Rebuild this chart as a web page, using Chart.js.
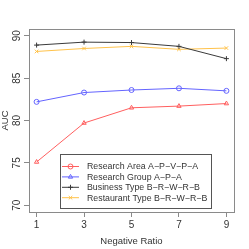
<!DOCTYPE html>
<html>
<head>
<meta charset="utf-8">
<script src="https://cdn.jsdelivr.net/npm/chart.js@4.4.0/dist/chart.umd.min.js"></script>
<style>
  html, body { margin: 0; padding: 0; background: #fff; }
  #wrap { width: 249px; height: 249px; }
</style>
</head>
<body>
<div id="wrap"><canvas id="c" width="249" height="249"></canvas></div>
<script>
// values
const ratios = [1, 3, 5, 7, 9];
const xTicks = [1, 3, 5, 7, 9];
const yTicks = [70, 75, 80, 85, 90];
const researchArea = [75.1, 79.7, 81.5, 81.7, 82.0];
const researchGroup = [82.2, 83.3, 83.6, 83.8, 83.5];
const businessType = [88.9, 89.25, 89.2, 88.75, 87.3];
const restaurantType = [88.15, 88.5, 88.75, 88.4, 88.55];

const labels = ['Research Area A\u2212P\u2212V\u2212P\u2212A', 'Research Group A\u2212P\u2212A',
    'Business Type B\u2212R\u2212W\u2212R\u2212B', 'Restaurant Type B\u2212R\u2212W\u2212R\u2212B'];
const colors = ['#ff5f5f', '#6464ff', '#3a3a3a', '#ffc24a'];
const plotStyles = ['triangle', 'circle', 'cross', 'crossRot'];
// the legend in the original swaps the first two markers
const legendStyles = ['circle', 'triangle', 'cross', 'crossRot'];

const FONT = 'Liberation Sans, Arial, sans-serif';

function series(i, values) {
    return {
        label: labels[i],
        data: ratios.map((x, k) => ({ x, y: values[k] })),
        borderColor: colors[i],
        backgroundColor: 'rgba(0,0,0,0)',
        borderWidth: 1,
        pointStyle: plotStyles[i],
        pointRadius: 2.5,
        pointBorderWidth: 1,
        tension: 0
    };
}

const boxPlugin = {
    id: 'boxAndLegend',
    afterDraw(chart) {
        const { ctx, chartArea: a } = chart;
        ctx.save();
        ctx.strokeStyle = '#8a8a8a';
        ctx.lineWidth = 1;
        ctx.strokeRect(Math.round(a.left) + 0.5, Math.round(a.top) + 0.5,
            Math.round(a.right - a.left), Math.round(a.bottom - a.top));

        // y tick labels, rotated like the original
        const ys = chart.scales.y;
        ctx.fillStyle = '#333';
        ctx.font = '10px ' + FONT;
        ctx.textAlign = 'center';
        ctx.textBaseline = 'middle';
        yTicks.forEach(v => {
            ctx.save();
            ctx.translate(17.5, ys.getPixelForValue(v));
            ctx.rotate(-Math.PI / 2);
            ctx.fillText(String(v), 0, 0);
            ctx.restore();
        });

        // legend box
        const lx = 60.5, ly = 154.5, lw = 151, lh = 54;
        ctx.strokeStyle = '#555';
        ctx.strokeRect(lx, ly, lw, lh);
        ctx.font = '8.8px ' + FONT;
        ctx.textBaseline = 'middle';
        ctx.textAlign = 'left';
        labels.forEach((t, i) => {
            const y = 166.5 + i * 10.4;
            ctx.strokeStyle = colors[i];
            ctx.lineWidth = 1;
            ctx.beginPath();
            ctx.moveTo(62, y);
            ctx.lineTo(79, y);
            ctx.stroke();
            ctx.fillStyle = 'rgba(0,0,0,0)';
            Chart.helpers.drawPoint(ctx, { pointStyle: legendStyles[i], radius: 2.5, borderWidth: 1 }, 70.5, y);
            ctx.fillStyle = '#333';
            ctx.fillText(t, 87, y + 0.5);
        });
        ctx.restore();
    }
};

new Chart(document.getElementById('c'), {
    type: 'line',
    data: {
        datasets: [
            series(0, researchArea),
            series(1, researchGroup),
            series(2, businessType),
            series(3, restaurantType)
        ]
    },
    options: {
        responsive: false,
        animation: false,
        devicePixelRatio: 1,
        layout: { padding: { top: 29, right: 15, left: 0, bottom: 0 } },
        plugins: { legend: { display: false }, tooltip: { enabled: false } },
        scales: {
            x: {
                type: 'linear',
                min: 0.68,
                max: 9.32,
                afterBuildTicks: s => { s.ticks = xTicks.map(v => ({ value: v })); },
                afterFit: s => { s.height = 37; },
                grid: { drawOnChartArea: false, drawTicks: true, tickLength: 5, color: '#8a8a8a' },
                border: { display: false },
                ticks: { color: '#333', font: { family: FONT, size: 10 }, padding: 2, maxRotation: 0 },
                title: { display: true, text: 'Negative Ratio', color: '#333', font: { family: FONT, size: 9.5 }, padding: { top: 3, bottom: 2 } }
            },
            y: {
                type: 'linear',
                min: 69.2,
                max: 90.8,
                afterBuildTicks: s => { s.ticks = yTicks.map(v => ({ value: v })); },
                afterFit: s => { s.width = 29; },
                grid: { drawOnChartArea: false, drawTicks: true, tickLength: 5, color: '#8a8a8a' },
                border: { display: false },
                ticks: { display: false },
                title: { display: true, text: 'AUC', color: '#333', font: { family: FONT, size: 9.5 }, padding: { top: 0, bottom: 2 } }
            }
        }
    },
    plugins: [boxPlugin]
});
</script>
</body>
</html>
